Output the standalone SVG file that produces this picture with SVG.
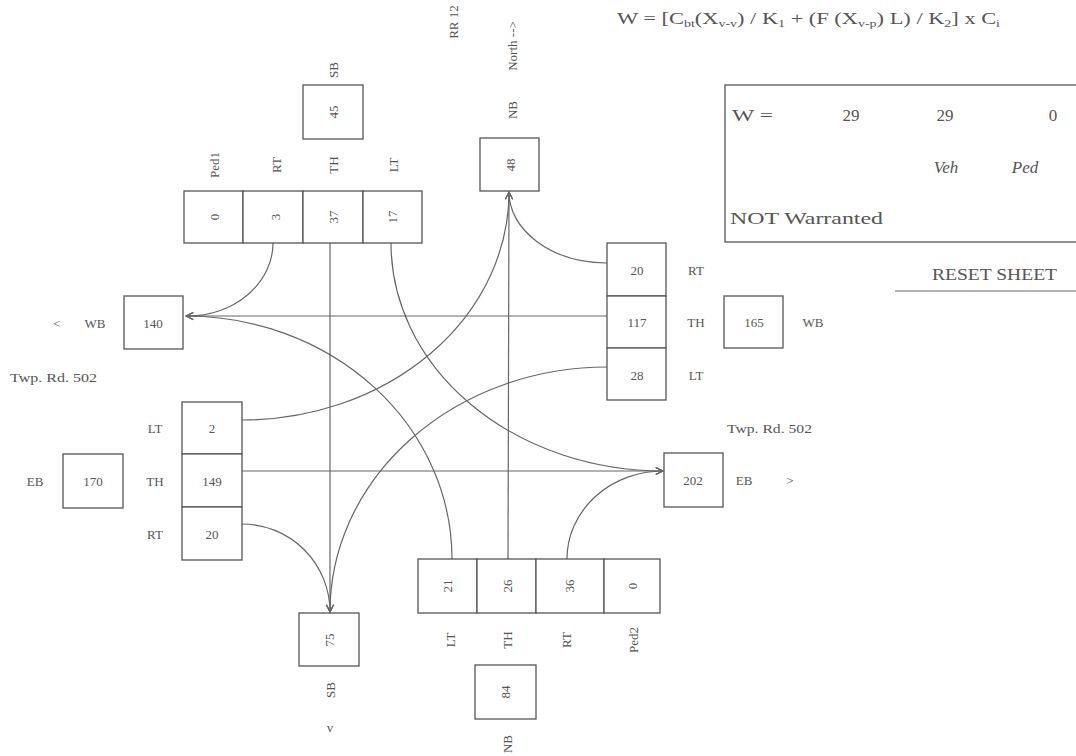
<svg xmlns="http://www.w3.org/2000/svg" width="1076" height="756" viewBox="0 0 1076 756">
<defs>
<style>
text{font-family:"Liberation Serif","Times New Roman",serif;fill:#555;}
.t{font-size:13px;text-anchor:middle;dominant-baseline:central;}
.big{font-size:17px;}
.box{fill:#fff;stroke:#555;stroke-width:1.3;}
.c{fill:none;stroke:#666;stroke-width:1.2;}
.it{font-style:italic;}
</style>
<marker id="ah" viewBox="0 0 10 10" refX="9" refY="5" markerWidth="9" markerHeight="9" markerUnits="userSpaceOnUse" orient="auto">
<path d="M1,1 L9,5 L1,9" fill="none" stroke="#666" stroke-width="1.2"/>
</marker>
</defs>
<rect width="1076" height="756" fill="#fff"/>

<g id="connectors">
<path class="c" d="M273,243 A86,73 0 0 1 186,316" marker-end="url(#ah)"/>
<path class="c" d="M607,316 L186,316" marker-end="url(#ah)"/>
<path class="c" d="M452,559 A266,243 0 0 0 186,316" marker-end="url(#ah)"/>
<path class="c" d="M330,243 L330,612" marker-end="url(#ah)"/>
<path class="c" d="M607,367 A277,245 0 0 0 330,612" marker-end="url(#ah)"/>
<path class="c" d="M242,524 A88,88 0 0 1 330,612" marker-end="url(#ah)"/>
<path class="c" d="M391,243 A272,228 0 0 0 663,471" marker-end="url(#ah)"/>
<path class="c" d="M242,471 L663,471" marker-end="url(#ah)"/>
<path class="c" d="M567,559 A96,88 0 0 1 663,471" marker-end="url(#ah)"/>
<path class="c" d="M607,263 A98,71 0 0 1 509,192" marker-end="url(#ah)"/>
<path class="c" d="M242,420 A267,228 0 0 0 509,192" marker-end="url(#ah)"/>
<path class="c" d="M508,559 L509,192" marker-end="url(#ah)"/>
</g>

<g id="header">
<text x="617" y="24" font-size="16" textLength="383" lengthAdjust="spacingAndGlyphs">W = [C<tspan font-size="10" dy="3">bt</tspan><tspan dy="-3">(X</tspan><tspan font-size="10" dy="3">v-v</tspan><tspan dy="-3">) / K</tspan><tspan font-size="10" dy="3">1</tspan><tspan dy="-3"> + (F (X</tspan><tspan font-size="10" dy="3">v-p</tspan><tspan dy="-3">) L) / K</tspan><tspan font-size="10" dy="3">2</tspan><tspan dy="-3">] x C</tspan><tspan font-size="10" dy="3">i</tspan></text>
<text class="t" transform="translate(453,22) rotate(-90)">RR 12</text>
<text class="t" transform="translate(512,46) rotate(-90)">North --&gt;</text>
</g>

<g id="warrant">
<rect class="box" x="725" y="85" width="360" height="157"/>
<text class="big" x="732" y="121" textLength="41" lengthAdjust="spacingAndGlyphs">W =</text>
<text class="big" x="851" y="121" text-anchor="middle">29</text>
<text class="big" x="945" y="121" text-anchor="middle">29</text>
<text class="big" x="1053" y="121" text-anchor="middle">0</text>
<text class="big it" x="946" y="173" text-anchor="middle">Veh</text>
<text class="big it" x="1025" y="173" text-anchor="middle">Ped</text>
<text class="big" x="730" y="224" textLength="153" lengthAdjust="spacingAndGlyphs">NOT Warranted</text>
</g>

<g id="reset">
<text x="932" y="280" font-size="16" textLength="125" lengthAdjust="spacingAndGlyphs">RESET SHEET</text>
<line x1="895" y1="291" x2="1076" y2="291" stroke="#666" stroke-width="1.2"/>
</g>

<g id="sb-in">
<rect class="box" x="303" y="85" width="60" height="54"/>
<text class="t" transform="translate(333,112) rotate(-90)">45</text>
<text class="t" transform="translate(333,70) rotate(-90)">SB</text>
</g>

<g id="sb-approach">
<rect class="box" x="184" y="191" width="59" height="52"/>
<rect class="box" x="243" y="191" width="60" height="52"/>
<rect class="box" x="303" y="191" width="60" height="52"/>
<rect class="box" x="363" y="191" width="59" height="52"/>
<text class="t" transform="translate(214,217) rotate(-90)">0</text>
<text class="t" transform="translate(275,217) rotate(-90)">3</text>
<text class="t" transform="translate(333,217) rotate(-90)">37</text>
<text class="t" transform="translate(392,217) rotate(-90)">17</text>
<text class="t" transform="translate(214,165) rotate(-90)">Ped1</text>
<text class="t" transform="translate(276,165) rotate(-90)">RT</text>
<text class="t" transform="translate(333,165) rotate(-90)">TH</text>
<text class="t" transform="translate(393,165) rotate(-90)">LT</text>
</g>

<g id="nb-out">
<rect class="box" x="480" y="138" width="59" height="53"/>
<text class="t" transform="translate(510,165) rotate(-90)">48</text>
<text class="t" transform="translate(512,110) rotate(-90)">NB</text>
</g>

<g id="wb-out">
<rect class="box" x="124" y="296" width="59" height="53"/>
<text class="t" x="153" y="323">140</text>
<text class="t" x="95" y="323">WB</text>
<text class="t" x="57" y="323">&lt;</text>
<text x="10" y="382" font-size="13" textLength="87" lengthAdjust="spacingAndGlyphs">Twp. Rd. 502</text>
</g>

<g id="wb-approach">
<rect class="box" x="607" y="243" width="59" height="53"/>
<rect class="box" x="607" y="296" width="59" height="52"/>
<rect class="box" x="607" y="348" width="59" height="52"/>
<text class="t" x="637" y="270">20</text>
<text class="t" x="637" y="322">117</text>
<text class="t" x="637" y="375">28</text>
<text class="t" x="696" y="270">RT</text>
<text class="t" x="696" y="322">TH</text>
<text class="t" x="696" y="375">LT</text>
</g>

<g id="wb-in">
<rect class="box" x="724" y="296" width="59" height="52"/>
<text class="t" x="754" y="322">165</text>
<text class="t" x="813" y="322">WB</text>
</g>

<g id="eb-in">
<rect class="box" x="63" y="454" width="60" height="54"/>
<text class="t" x="93" y="481">170</text>
<text class="t" x="35" y="481">EB</text>
</g>

<g id="eb-approach">
<rect class="box" x="182" y="402" width="60" height="52"/>
<rect class="box" x="182" y="454" width="60" height="53"/>
<rect class="box" x="182" y="507" width="60" height="53"/>
<text class="t" x="212" y="428">2</text>
<text class="t" x="212" y="481">149</text>
<text class="t" x="212" y="534">20</text>
<text class="t" x="155" y="428">LT</text>
<text class="t" x="155" y="481">TH</text>
<text class="t" x="155" y="534">RT</text>
</g>

<g id="eb-out">
<rect class="box" x="664" y="453" width="59" height="54"/>
<text class="t" x="693" y="480">202</text>
<text class="t" x="744" y="480">EB</text>
<text class="t" x="790" y="480">&gt;</text>
<text x="727" y="433" font-size="13" textLength="85" lengthAdjust="spacingAndGlyphs">Twp. Rd. 502</text>
</g>

<g id="nb-approach">
<rect class="box" x="418" y="559" width="59" height="54"/>
<rect class="box" x="477" y="559" width="59" height="54"/>
<rect class="box" x="536" y="559" width="68" height="54"/>
<rect class="box" x="604" y="559" width="56" height="54"/>
<text class="t" transform="translate(447,586) rotate(-90)">21</text>
<text class="t" transform="translate(507,586) rotate(-90)">26</text>
<text class="t" transform="translate(569,586) rotate(-90)">36</text>
<text class="t" transform="translate(632,586) rotate(-90)">0</text>
<text class="t" transform="translate(450,640) rotate(-90)">LT</text>
<text class="t" transform="translate(507,640) rotate(-90)">TH</text>
<text class="t" transform="translate(566,640) rotate(-90)">RT</text>
<text class="t" transform="translate(633,640) rotate(-90)">Ped2</text>
</g>

<g id="sb-out">
<rect class="box" x="299" y="613" width="60" height="53"/>
<text class="t" transform="translate(329,640) rotate(-90)">75</text>
<text class="t" transform="translate(330,690) rotate(-90)">SB</text>
<text class="t" x="330" y="727">v</text>
</g>

<g id="nb-in">
<rect class="box" x="475" y="665" width="61" height="54"/>
<text class="t" transform="translate(505,692) rotate(-90)">84</text>
<text class="t" transform="translate(507,744) rotate(-90)">NB</text>
</g>
</svg>
